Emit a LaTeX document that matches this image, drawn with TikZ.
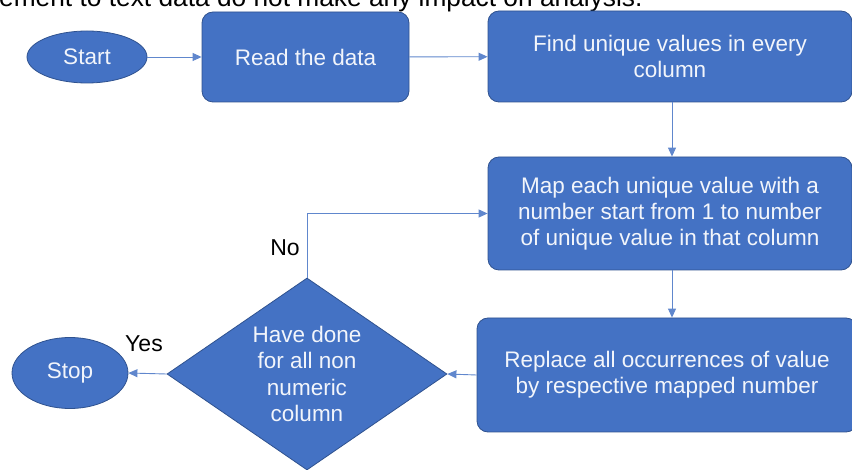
\documentclass[tikz,border=0pt]{standalone}
\usepackage{fontspec}
\setmainfont{Liberation Sans}
\usetikzlibrary{shapes.geometric,arrows.meta}
\definecolor{boxblue}{HTML}{4472C4}
\definecolor{edgeblue}{HTML}{2F528F}
\definecolor{textwhite}{HTML}{F2F5FB}
\tikzset{
  stepbox/.style={draw=edgeblue, line width=0.8pt, fill=boxblue, rounded corners=11pt,
    text=textwhite, align=center, font=\fontsize{22.5}{26}\selectfont, inner sep=0pt},
  terminal/.style={draw=edgeblue, line width=0.8pt, fill=boxblue, ellipse, inner sep=0pt,
    text=textwhite, font=\fontsize{22.5}{26}\selectfont},
  decision/.style={draw=edgeblue, line width=0.8pt, fill=boxblue, diamond, inner sep=0pt,
    shape aspect=1.46, text=textwhite, align=center, font=\fontsize{22.5}{26.5}\selectfont},
  flow/.style={draw=boxblue!85!white, line width=0.9pt, -{Triangle[length=9pt,width=8pt]}},
  tag/.style={text=black, font=\fontsize{23}{26}\selectfont, inner sep=0pt}
}
\begin{document}
\begin{tikzpicture}[x=1pt,y=-1pt]
\path[use as bounding box] (0,0) rectangle (852,470);
\begin{scope}
\clip (0,0) rectangle (852,470);
% running text above the chart, its top trimmed by the page edge
\node[anchor=base west, inner sep=0pt, font=\fontsize{26.3}{30}\selectfont] (note) at (-1,7)
  {ement to text data do not make any impact on analysis.};

\node[terminal, minimum width=120pt, minimum height=52pt] (start) at (87,57) {Start};
\node[stepbox, minimum width=207pt, minimum height=90pt] (read) at (305.5,57) {Read the data};
\node[stepbox, minimum width=364pt, minimum height=91pt] (find) at (670,56.5)
  {Find unique values in every\\column};
\node[stepbox, minimum width=364pt, minimum height=113pt] (map) at (670,213.5)
  {Map each unique value with a\\number start from 1 to number\\of unique value in that column};
\node[stepbox, minimum width=380pt, minimum height=114pt] (repl) at (667,375)
  {Replace all occurrences of value\\by respective mapped number};
\node[decision, minimum width=280pt, minimum height=192pt] (done) at (307,374)
  {Have done\\for all non\\numeric\\column};
\node[terminal, minimum width=116pt, minimum height=71pt] (stop) at (70,373) {Stop};

\coordinate (bend) at (done.north |- map.west);
\draw[flow] (start) -- (read);
\draw[flow] (read) -- (find);
\draw[flow] (find.south -| 672,0) -- (map.north -| 672,0);
\draw[flow] (map.south -| 672,0) -- (repl.north -| 672,0);
\draw[flow] (repl.west) -- (done.east);
\draw[flow] (done.west) -- (stop.east);
\draw[flow, rounded corners=0pt] (done.north) -- (bend) -- (map.west);

\node[tag] (yes) at (144,344) {Yes};
\node[tag] (no) at (285,248) {No};
\end{scope}
\end{tikzpicture}
\end{document}
